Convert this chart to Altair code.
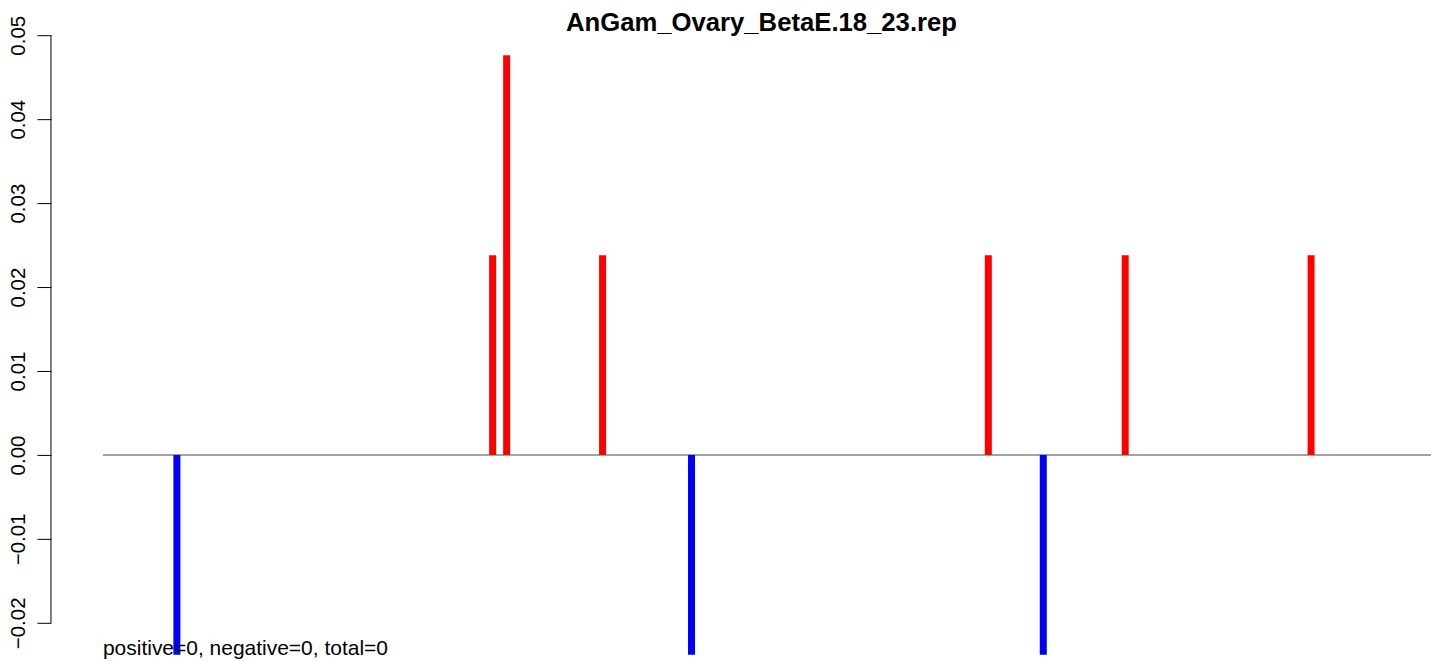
import altair as alt
import pandas as pd

# ---- data ----
positions = [75, 391, 405, 501, 590, 887, 942, 1024, 1210]
values = [-0.0238, 0.0238, 0.0476, 0.0238, -0.0238, 0.0238, -0.0238, 0.0238, 0.0238]
y_ticks = [-0.02, -0.01, 0.00, 0.01, 0.02, 0.03, 0.04, 0.05]
x_start, x_end = 1, 1330
x_domain = [-51, 1330]
y_domain = [-0.0238, 0.05]
title_text = "AnGam_Ovary_BetaE.18_23.rep"
title_center = 660
note_text = "positive=0, negative=0, total=0"

FONT = "Liberation Sans"

bars_df = pd.DataFrame({
    "pos": positions,
    "value": values,
    "sign": ["pos" if v > 0 else "neg" for v in values],
})
zero_df = pd.DataFrame({"x": [x_start], "x2": [x_end], "y": [0.0]})
note_df = pd.DataFrame({"x": [x_start], "y": [y_domain[0]], "label": [note_text]})
title_df = pd.DataFrame({"x": [title_center], "label": [title_text]})

xs = alt.Scale(domain=x_domain, nice=False, zero=False)
ys = alt.Scale(domain=y_domain, nice=False, zero=False)

yaxis = alt.Axis(
    values=y_ticks, format=".2f", title=None, grid=False, domain=False,
    labelAngle=270, labelAlign="center", labelBaseline="alphabetic",
    labelPadding=12, tickSize=14, tickColor="black", tickWidth=1,
    labelFontSize=20.5, labelFont=FONT, labelColor="black",
)

zero_line = alt.Chart(zero_df).mark_rule(color="#A3A3A3", strokeWidth=2).encode(
    x=alt.X("x:Q", scale=xs, axis=None),
    x2="x2:Q",
    y=alt.Y("y:Q", scale=ys, axis=yaxis),
)

bars = alt.Chart(bars_df).mark_rule(strokeWidth=7, strokeCap="butt").encode(
    x=alt.X("pos:Q", scale=xs, axis=None),
    y=alt.Y("value:Q", scale=ys, axis=yaxis),
    y2=alt.datum(0),
    color=alt.Color("sign:N", scale=alt.Scale(domain=["pos", "neg"], range=["#FF0000", "#0000FF"]), legend=None),
)

axis_line = alt.Chart(zero_df).mark_rule(color="black", strokeWidth=1).encode(
    x=alt.value(0),
    y=alt.datum(min(y_ticks), scale=ys),
    y2=alt.datum(max(y_ticks)),
)

note = alt.Chart(note_df).mark_text(
    align="left", baseline="alphabetic", fontSize=21, font=FONT, color="black"
).encode(
    x=alt.X("x:Q", scale=xs, axis=None),
    y=alt.Y("y:Q", scale=ys, axis=yaxis),
    text="label:N",
)

title = alt.Chart(title_df).mark_text(
    align="center", baseline="alphabetic", fontSize=25.7, fontWeight="bold", font=FONT, color="black"
).encode(
    x=alt.X("x:Q", scale=xs, axis=None),
    y=alt.value(-4),
    text="label:N",
)

chart = alt.layer(zero_line, bars, axis_line, note, title).properties(
    width=1381,
    height=620,
    padding={"left": 43, "top": 27, "right": 0, "bottom": 6},
    autosize=alt.AutoSizeParams(type="none"),
).configure_view(stroke=None)

chart.save("out.html", embed_options={"renderer": "svg", "actions": False})
